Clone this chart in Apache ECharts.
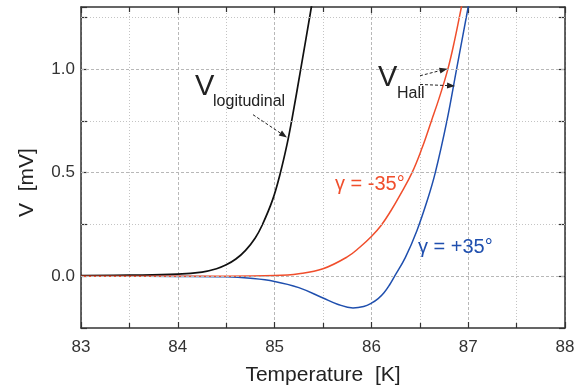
<!DOCTYPE html>
<html>
<head>
<meta charset="utf-8">
<script src="https://cdn.jsdelivr.net/npm/echarts@6/dist/echarts.min.js"></script>
<style>html,body{margin:0;padding:0;background:#fff;}#c{width:585px;height:391px;}</style>
</head>
<body>
<div id="c"></div>
<script>
// ---- data ----
const longT = [83.0, 83.5, 84.0, 84.25, 84.4, 84.5, 84.6, 84.7, 84.8, 84.87, 84.98, 85.06, 85.13, 85.18, 85.27, 85.38, 85.45];
const longV = [0.003, 0.005, 0.010, 0.020, 0.036, 0.055, 0.083, 0.125, 0.185, 0.245, 0.37, 0.50, 0.64, 0.76, 1.0, 1.30, 1.49];

const redT = [83.0, 84.0, 84.5, 85.0, 85.25, 85.5, 85.75, 85.88, 86.0, 86.1, 86.2, 86.3, 86.42, 86.52, 86.62, 86.7, 86.79, 86.86, 86.93, 87.0];
const redV = [0.0, 0.0, 0.0, 0.003, 0.012, 0.036, 0.093, 0.14, 0.192, 0.245, 0.315, 0.395, 0.5, 0.615, 0.75, 0.86, 1.0, 1.14, 1.3, 1.46];

const blueT = [83.0, 84.0, 84.5, 84.75, 85.0, 85.25, 85.5, 85.65, 85.81, 85.92, 86.0, 86.07, 86.13, 86.19, 86.24, 86.35, 86.47, 86.58, 86.66, 86.78, 86.88, 87.0, 87.05];
const blueV = [0.0, -0.001, -0.003, -0.01, -0.025, -0.055, -0.105, -0.135, -0.153, -0.146, -0.13, -0.108, -0.08, -0.04, 0.0, 0.09, 0.22, 0.37, 0.5, 0.75, 1.0, 1.3, 1.42];

const yMajorTicks = [0, 0.5, 1.0];
const yMinorTicks = [0.25, 0.75, 1.25];

// annotation anchors in data coordinates [T, V]
const annVlong = [84.178, 0.914];
const annVlongSub = [84.364, 0.8445];
const annVhall = [86.068, 0.959];
const annVhallSub = [86.264, 0.882];
const annGammaNeg = [85.624, 0.445];
const annGammaPos = [86.481, 0.139];
const arrowLong = [[84.777, 0.78], [85.128, 0.67]];
const arrowHall1 = [[86.502, 0.968], [86.786, 1.002]];
const arrowHall2 = [[86.502, 0.926], [86.864, 0.919]];

const zip = (a, b) => a.map((v, i) => [v, b[i]]);
const FONT = '"Liberation Sans", Arial, Helvetica, sans-serif';
const AX = '#333';
const GRID = '#b8b8b8';

const chart = echarts.init(document.getElementById('c'), null, {renderer: 'canvas'});

const xBase = {
  type: 'value', min: 83, max: 88, interval: 1,
  axisLine: {show: true, onZero: false, lineStyle: {color: AX, width: 1.5}},
  axisTick: {show: true, inside: true, length: 6, lineStyle: {color: AX, width: 1.2}},
  minorTick: {show: true, splitNumber: 2, length: 5, lineStyle: {color: AX, width: 1.2}}
};
const yBase = {
  type: 'value', min: -0.25, max: 1.3, interval: 0.25,
  axisLine: {show: true, onZero: false, lineStyle: {color: AX, width: 1.5}},
  axisTick: {show: true, inside: true, length: 6, lineStyle: {color: AX, width: 1.2}},
  splitLine: {show: false}
};

const lineCommon = {type: 'line', showSymbol: false, smooth: 0.4, z: 3};

const option = {
  animation: false,
  grid: {left: 81, right: 20, top: 7, bottom: 61, containLabel: false},
  xAxis: [
    Object.assign({}, xBase, {
      position: 'bottom',
      name: 'Temperature  [K]', nameLocation: 'middle', nameGap: 37,
      nameTextStyle: {fontFamily: FONT, fontSize: 21, color: '#222'},
      axisLabel: {show: true, margin: 11, fontFamily: FONT, fontSize: 17, color: '#333'},
      splitLine: {show: true, lineStyle: {color: GRID, type: [3, 2], width: 1}},
      minorSplitLine: {show: true, lineStyle: {color: '#c4c4c4', type: [1, 2], width: 1}}
    }),
    Object.assign({}, xBase, {
      position: 'top', axisLabel: {show: false}, splitLine: {show: false}
    })
  ],
  yAxis: [
    Object.assign({}, yBase, {
      position: 'left',
      name: 'V  [mV]', nameLocation: 'middle', nameGap: 43,
      nameTextStyle: {fontFamily: FONT, fontSize: 21, color: '#222', padding: [0, 30, 0, 0]},
      axisLabel: {
        show: true, margin: 6, fontFamily: FONT, fontSize: 17, color: '#333',
        formatter: v => (Math.abs(v / 0.5 - Math.round(v / 0.5)) < 1e-6 ? v.toFixed(1) : '')
      }
    }),
    Object.assign({}, yBase, {position: 'right', axisLabel: {show: false}})
  ],
  series: [
    {
      type: 'line', data: [], silent: true, z: 1,
      markLine: {
        silent: true, symbol: 'none', label: {show: false}, animation: false,
        data: yMajorTicks.map(v => ({yAxis: v, lineStyle: {color: GRID, type: [3, 2], width: 1}}))
          .concat(yMinorTicks.map(v => ({yAxis: v, lineStyle: {color: '#c4c4c4', type: [1, 2], width: 1}})))
      }
    },
    Object.assign({}, lineCommon, {name: 'g+35', data: zip(blueT, blueV), lineStyle: {color: '#1f4fae', width: 1.5}}),
    Object.assign({}, lineCommon, {name: 'long', data: zip(longT, longV), lineStyle: {color: '#111', width: 1.7}}),
    Object.assign({}, lineCommon, {name: 'g-35', data: zip(redT, redV), lineStyle: {color: '#f04e2c', width: 1.5}})
  ]
};
chart.setOption(option);

function px(p) { return chart.convertToPixel({xAxisIndex: 0, yAxisIndex: 0}, p); }
function text(p, str, size, color) {
  const q = px(p);
  return {type: 'text', x: q[0], y: q[1], z: 10,
    style: {text: str, fontFamily: FONT, fontSize: size, fill: color, textAlign: 'left', textVerticalAlign: 'middle'}};
}
function arrow(seg) {
  const a = px(seg[0]), b = px(seg[1]);
  const ang = Math.atan2(b[1] - a[1], b[0] - a[0]);
  const L = 8, W = 3;
  const bx = b[0] - L * Math.cos(ang), by = b[1] - L * Math.sin(ang);
  const nx = -Math.sin(ang) * W, ny = Math.cos(ang) * W;
  return [
    {type: 'line', z: 10, shape: {x1: a[0], y1: a[1], x2: bx, y2: by},
     style: {stroke: '#222', lineWidth: 1, lineDash: [3, 2]}},
    {type: 'polygon', z: 10, shape: {points: [[b[0], b[1]], [bx + nx, by + ny], [bx - nx, by - ny]]},
     style: {fill: '#222'}}
  ];
}
chart.setOption({
  graphic: [
    text(annVlong, 'V', 29, '#222'),
    text(annVlongSub, 'logitudinal', 16, '#222'),
    text(annVhall, 'V', 29, '#222'),
    text(annVhallSub, 'Hall', 16, '#222'),
    text(annGammaNeg, 'γ = -35°', 20, '#f04e2c'),
    text(annGammaPos, 'γ = +35°', 20, '#1f4fae')
  ].concat(arrow(arrowLong), arrow(arrowHall1), arrow(arrowHall2))
});
</script>
</body>
</html>
